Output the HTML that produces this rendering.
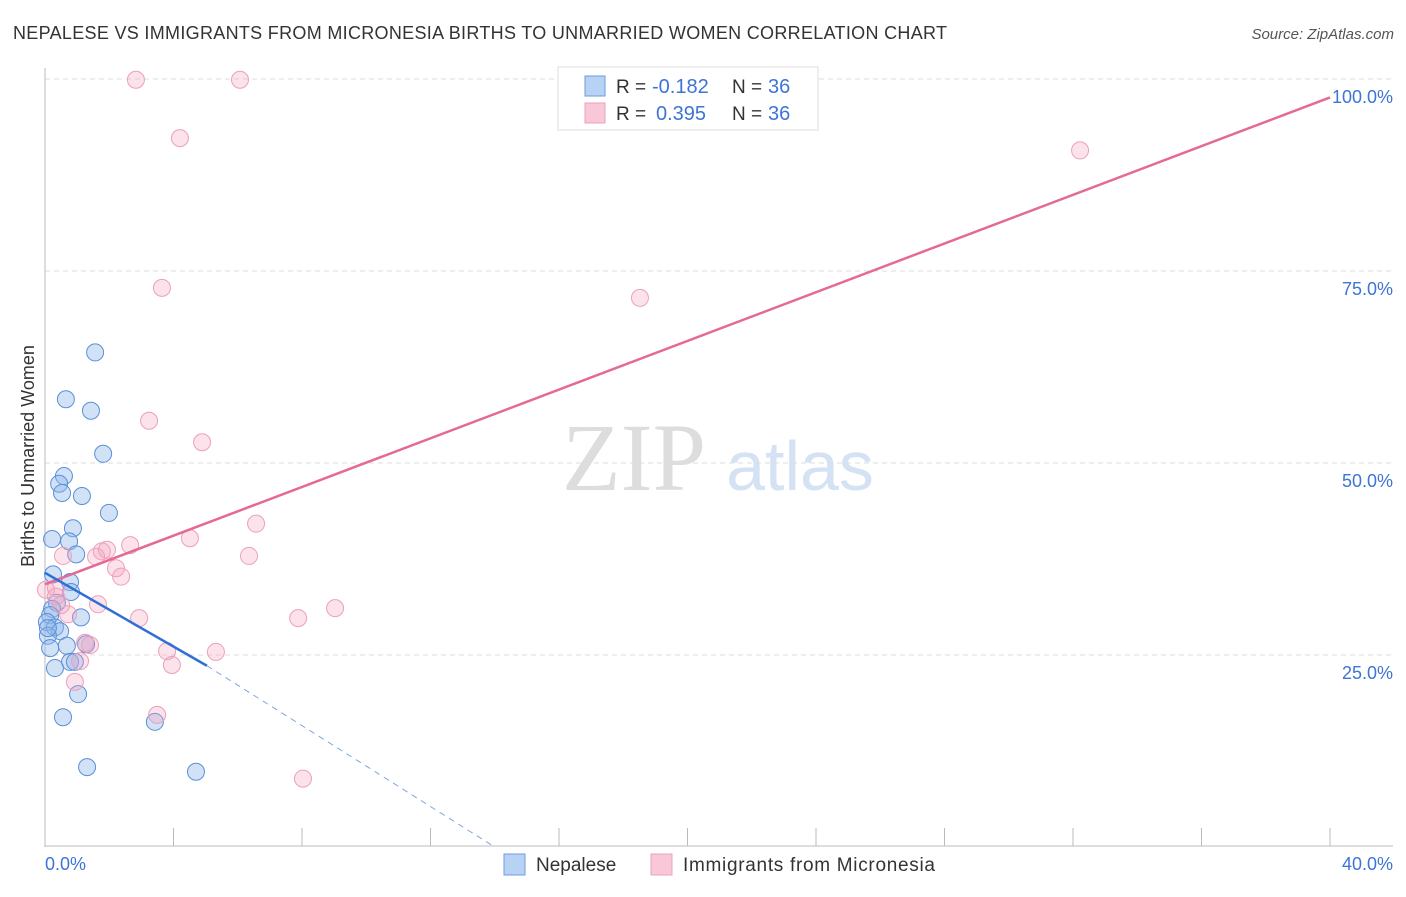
<!DOCTYPE html>
<html><head><meta charset="utf-8"><style>
body{margin:0;background:#fff;font-family:"Liberation Sans",sans-serif}
svg text{font-family:"Liberation Sans",sans-serif}
</style></head><body>
<svg id="c" width="1406" height="892">
<text x="13" y="39" font-size="18" fill="#333" textLength="934">NEPALESE VS IMMIGRANTS FROM MICRONESIA BIRTHS TO UNMARRIED WOMEN CORRELATION CHART</text>
<text x="1394" y="39" font-size="15" fill="#555" text-anchor="end" font-style="italic">Source: ZipAtlas.com</text>
<text x="634" y="490" font-size="96" fill="#ddd" text-anchor="middle" style="font-family:'Liberation Serif',serif">ZIP</text>
<text x="800" y="490" font-size="70" fill="#d4e2f4" text-anchor="middle">atlas</text>
<text transform="translate(34,456) rotate(-90)" font-size="18" fill="#333" text-anchor="middle">Births to Unmarried Women</text>
<g id="grid"></g><g id="pts"></g><g id="lines"></g>
<g>
<rect x="558" y="67" width="260" height="63" fill="#fff" stroke="#ddd"/>
<rect x="585" y="76" width="20" height="20" fill="#b8d2f4" stroke="#6f9be0"/>
<rect x="585" y="103" width="20" height="20" fill="#f9c8d8" stroke="#eba0bb"/>
<text x="616" y="93" font-size="19" fill="#333">R = </text><text x="652" y="93" font-size="20" fill="#3d74d6">-0.182</text>
<text x="732" y="93" font-size="19" fill="#333">N = </text><text x="768" y="93" font-size="20" fill="#3d74d6">36</text>
<text x="616" y="120" font-size="19" fill="#333">R = </text><text x="656" y="120" font-size="20" fill="#3d74d6">0.395</text>
<text x="732" y="120" font-size="19" fill="#333">N = </text><text x="768" y="120" font-size="20" fill="#3d74d6">36</text>
</g>
<g>
<rect x="504" y="854" width="21" height="21" fill="#b8d2f4" stroke="#6f9be0"/>
<text x="536" y="871" font-size="19" fill="#333">Nepalese</text>
<rect x="651" y="854" width="21" height="21" fill="#f9c8d8" stroke="#eba0bb"/>
<text x="683" y="871" font-size="19" fill="#333" textLength="252">Immigrants from Micronesia</text>
</g>
</svg>
<script>
const yTicks=[25,50,75,100];
const yTickLabels=["25.0%","50.0%","75.0%","100.0%"];
const xTicks=[0,4,8,12,16,20,24,28,32,36,40];
const blueX=[1.56,0.65,1.43,1.81,0.59,0.44,0.53,1.15,1.99,0.87,0.22,0.75,0.97,0.25,0.78,0.81,0.37,0.22,0.16,1.12,0.06,0.31,0.47,0.09,0.68,0.16,0.78,0.93,1.28,0.31,1.03,0.56,3.42,1.31,4.70,0.09];
const blueY=[64.4,58.3,56.8,51.2,48.3,47.3,46.1,45.7,43.5,41.5,40.1,39.8,38.1,35.5,34.5,33.2,31.8,31.0,30.2,29.9,29.3,28.6,28.1,27.5,26.2,25.9,24.1,24.1,26.4,23.3,19.9,16.9,16.3,10.4,9.8,28.5];
const pinkX=[2.83,6.07,4.20,32.22,3.64,18.52,3.24,4.89,6.57,4.51,2.65,1.93,1.77,1.59,6.35,0.56,2.21,2.37,0.34,0.03,0.34,0.50,1.65,0.72,2.93,7.88,9.03,1.25,1.40,3.80,5.32,3.95,1.09,0.93,3.49,8.03];
const pinkY=[99.9,99.9,92.3,90.7,72.8,71.5,55.5,52.7,42.1,40.2,39.3,38.7,38.5,37.8,37.9,37.9,36.3,35.2,33.7,33.5,32.6,31.5,31.6,30.3,29.8,29.8,31.1,26.6,26.3,25.5,25.4,23.7,24.2,21.5,17.2,8.9];
const pinkLine=[[0,34.2],[40,97.6]];
const blueSolid=[[0,35.7],[5.04,23.6]];
const blueDash=[[5.04,23.6],[14.0,0]];
const NS="http://www.w3.org/2000/svg";
const sx=v=>45+v/40*1285, sy=v=>847-v/100*768;
function mk(t,a,p){const e=document.createElementNS(NS,t);for(const k in a)e.setAttribute(k,a[k]);p.appendChild(e);return e;}
const g=document.getElementById('grid');
yTicks.forEach((v,i)=>{const l=mk('line',{x1:45,x2:1393,y1:sy(v),y2:sy(v),stroke:'#ddd','stroke-dasharray':'5,4'},g);


const t=mk('text',{x:1393,y:sy(v)+24,'font-size':18,fill:'#3d74d6','text-anchor':'end'},g);t.textContent=yTickLabels[i];

});
const ax=mk('line',{x1:45,x2:45,y1:68,y2:847,stroke:'#bbb'},g);


const bx=mk('line',{x1:45,x2:1393,y1:846,y2:846,stroke:'#bbb'},g);


xTicks.forEach(v=>{const l=mk('line',{x1:sx(v),x2:sx(v),y1:828,y2:846,stroke:'#bbb'},g);

});
[[0,"0.0%","start",45],[40,"40.0%","end",1393]].forEach(d=>{const t=mk('text',{x:d[3],y:870,'font-size':18,fill:'#3d74d6','text-anchor':d[2]},g);t.textContent=d[1];

});
const P=document.getElementById('pts');
blueX.forEach((x,i)=>{const c=mk('circle',{cx:sx(x),cy:sy(blueY[i]),r:8.5,fill:'rgba(140,182,236,0.4)',stroke:'#5b8fd8','stroke-width':1},P);

});
pinkX.forEach((x,i)=>{const c=mk('circle',{cx:sx(x),cy:sy(pinkY[i]),r:8.5,fill:'rgba(245,160,190,0.3)',stroke:'#eba0bb','stroke-width':1},P);

});
const L=document.getElementById('lines');
const pl=mk('line',{x1:sx(pinkLine[0][0]),y1:sy(pinkLine[0][1]),x2:sx(pinkLine[1][0]),y2:sy(pinkLine[1][1]),stroke:'#e46a95','stroke-width':2.5},L);


const bl=mk('line',{x1:sx(blueSolid[0][0]),y1:sy(blueSolid[0][1]),x2:sx(blueSolid[1][0]),y2:sy(blueSolid[1][1]),stroke:'#2f6fd6','stroke-width':2.5},L);


const bd=mk('line',{x1:sx(blueDash[0][0]),y1:sy(blueDash[0][1]),x2:sx(blueDash[1][0]),y2:sy(blueDash[1][1]),stroke:'#7fa6e0','stroke-width':1,'stroke-dasharray':'6,5'},L);


</script>
</body></html>
